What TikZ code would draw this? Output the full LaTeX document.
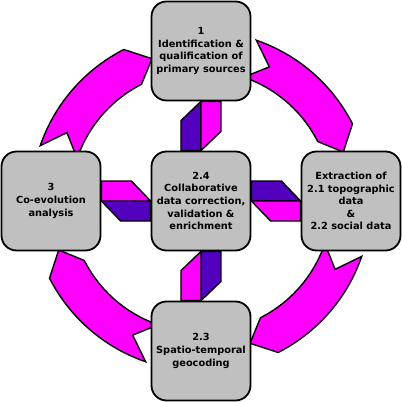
\documentclass[tikz,border=0pt]{standalone}
\usepackage{fontspec}
\setmainfont{DejaVu Sans}
\usetikzlibrary{positioning,backgrounds}
\definecolor{mag}{HTML}{FF00FF}
\definecolor{pur}{HTML}{5200BE}
\definecolor{boxgray}{HTML}{C0C0C0}

\begin{document}
\begin{tikzpicture}[x=1pt,y=1pt,node distance=150pt,on grid]
\tikzstyle{stage}=[rectangle,rounded corners=15pt,draw=black,line width=1.8pt,fill=boxgray,minimum size=99pt,align=center,font=\fontsize{9.8}{12.6}\selectfont\bfseries]
\tikzstyle{ring}=[draw=black,line width=1.4pt,fill=mag]
\tikzstyle{toout}=[draw=black,line width=1.4pt,fill=pur]
\tikzstyle{toin}=[draw=black,line width=1.4pt,fill=mag]

	\useasboundingbox (-201,-201) rectangle (201,201);

	\node[stage] (collab) {2.4\\Collaborative\\data correction,\\validation \&\\enrichment};
	\node[stage] (ident) [above=of collab] {1\\Identification \&\\qualification of\\primary sources};
	\node[stage] (extract) [right=of collab] {Extraction of\\2.1 topographic\\data\\\&\\2.2 social data};
	\node[stage] (geocode) [below=of collab] {2.3\\Spatio-temporal\\geocoding};
	\node[stage] (coevol) [left=of collab] {3\\Co-evolution\\analysis};

	\begin{scope}[on background layer]
	% circular arrows, clockwise
	\foreach \a in {0,90,180,270}
		\draw[ring,rotate=\a] (71:170) arc[start angle=71,end angle=27,radius=170]
			-- (19:150.5) -- (27:131) arc[start angle=27,end angle=71,radius=131]
			-- (63:150.5) -- cycle;
	% links with the centre
	\foreach \s/\n/\e/\a in {north/ident/south/0, east/extract/west/-90, south/geocode/north/180, west/coevol/east/90} {
		\draw[toout,rotate=\a] (collab.\s) -- ++(-20,0) -- ++(0,30) -- (\n.\e) -- cycle;
		\draw[toin,rotate=\a] (\n.\e) -- ++(20,0) -- ++(0,-30) -- (collab.\s) -- cycle;
	}
	\end{scope}
\end{tikzpicture}
\end{document}
